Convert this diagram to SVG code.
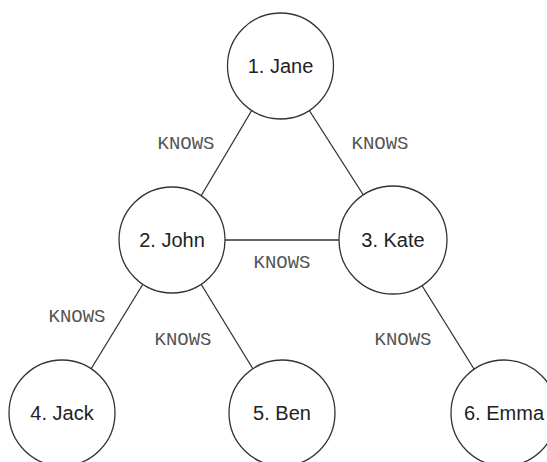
<svg xmlns="http://www.w3.org/2000/svg" width="547" height="462" viewBox="0 0 547 462">
<style>
.n{fill:#fff;stroke:#333;stroke-width:1.3}
.t{font-family:"Liberation Sans",Arial,sans-serif;font-size:20px;fill:#222;text-anchor:middle}
.e{stroke:#333;stroke-width:1.3;fill:none}
.l{font-family:"Liberation Mono","Courier New",monospace;font-size:19px;fill:#555;text-anchor:middle}
</style>
<rect width="547" height="462" fill="#fff"/>
<g id="connectors">
<line class="e" x1="252" y1="110" x2="201" y2="196"/>
<line class="e" x1="309" y1="110" x2="364" y2="196"/>
<line class="e" x1="225" y1="240" x2="340" y2="240"/>
<line class="e" x1="143" y1="284" x2="91" y2="369"/>
<line class="e" x1="201" y1="284" x2="253" y2="369"/>
<line class="e" x1="421" y1="284" x2="474" y2="369"/>
<text class="l" x="186" y="149">KNOWS</text>
<text class="l" x="380" y="149">KNOWS</text>
<text class="l" x="282" y="268">KNOWS</text>
<text class="l" x="77" y="322">KNOWS</text>
<text class="l" x="183" y="345">KNOWS</text>
<text class="l" x="403" y="345">KNOWS</text>
</g>
<g id="n1"><circle class="n" cx="280.5" cy="66" r="53"/><text class="t" x="280.5" y="73">1. Jane</text></g>
<g id="n2"><circle class="n" cx="172" cy="240" r="53"/><text class="t" x="172" y="247">2. John</text></g>
<g id="n3"><circle class="n" cx="393" cy="240" r="54"/><text class="t" x="393" y="247">3. Kate</text></g>
<g id="n4"><circle class="n" cx="62" cy="413" r="53"/><text class="t" x="62" y="420">4. Jack</text></g>
<g id="n5"><circle class="n" cx="282" cy="413" r="53"/><text class="t" x="282" y="420">5. Ben</text></g>
<g id="n6"><circle class="n" cx="504" cy="413" r="53"/><text class="t" x="504" y="420">6. Emma</text></g>
</svg>
